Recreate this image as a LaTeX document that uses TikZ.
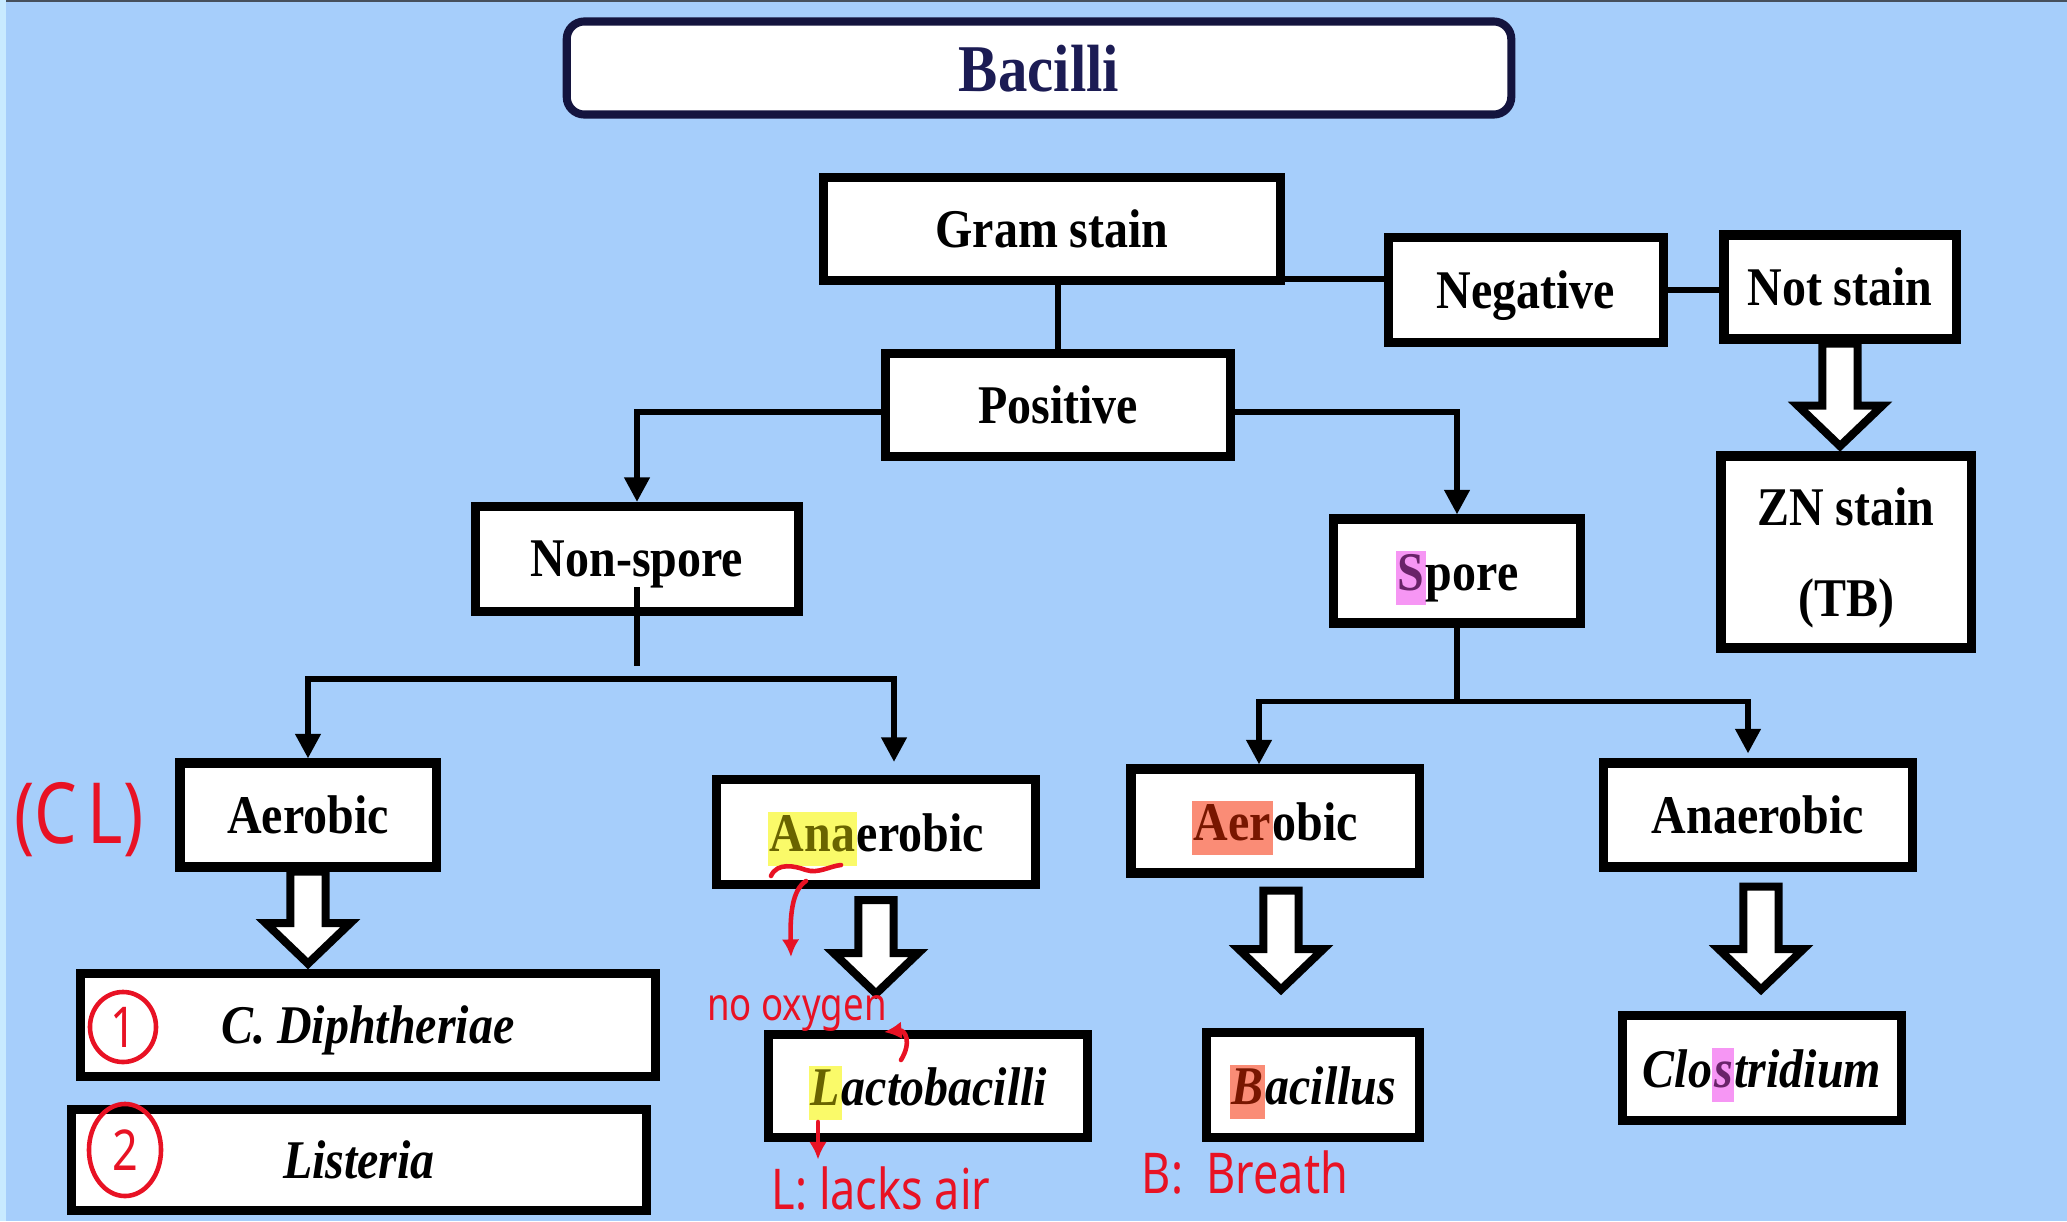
\documentclass[tikz,border=0pt]{standalone}
\usepackage{fontspec}
\setmainfont{Liberation Serif}[FakeStretch=0.88]
\newfontfamily\handfont{Noto Sans}[FakeStretch=0.8]
\usetikzlibrary{arrows.meta,calc,shapes.geometric}

\definecolor{bgblue}{RGB}{166,206,251}
\definecolor{stripblue}{RGB}{200,234,255}
\definecolor{topline}{RGB}{70,80,92}
\definecolor{navy}{RGB}{20,20,62}
\definecolor{titleink}{RGB}{28,28,84}
\definecolor{inkred}{RGB}{232,18,36}
\definecolor{hlyellow}{RGB}{250,250,105}
\definecolor{hlyink}{RGB}{105,100,0}
\definecolor{hlsalmon}{RGB}{250,140,118}
\definecolor{hlsink}{RGB}{120,22,0}
\definecolor{hlpink}{RGB}{246,150,244}
\definecolor{hlpink2}{RGB}{105,35,105}

% highlighter pen over a few letters
\newcommand{\marker}[3]{{\fboxsep=0.5pt\colorbox{#1}{\rule[-0.22em]{0pt}{0.92em}\textcolor{#2}{#3}}}}

% white block arrow going down from #1 to the height of #2
\newcommand{\hollowarrow}[2]{
  \draw[hollow] let \p1=(#1), \p2=(#2) in
    (\x1-5pt,\y1) -- (\x1-5pt,\y2+13pt) -- (\x1-12pt,\y2+13pt) -- (\x1,\y2+1.5pt)
    -- (\x1+12pt,\y2+13pt) -- (\x1+5pt,\y2+13pt) -- (\x1+5pt,\y1) -- cycle;
}

\tikzset{
  box/.style={draw, fill=white, line width=2.6pt, minimum height=1.04cm, inner sep=0pt,
    text depth=0pt, font=\fontsize{15.5pt}{19pt}\selectfont\bfseries},
  species/.style={box, font=\fontsize{15.5pt}{19pt}\selectfont\bfseries\itshape},
  titlebox/.style={draw=navy, fill=white, line width=2.3pt, rounded corners=5pt, text=titleink,
    text depth=0pt, font=\fontsize{19pt}{23pt}\selectfont\bfseries},
  conn/.style={line width=1.6pt},
  arr/.style={conn, -{Triangle[length=7pt,width=7pt]}},
  twoarr/.style={conn, {Triangle[length=7pt,width=7pt]}-{Triangle[length=7pt,width=7pt]}},
  hollow/.style={draw, fill=white, line width=2.3pt, line join=miter},
  ink/.style={inkred, line width=1.3pt, line cap=round},
  inkarr/.style={ink, -{Latex[length=5pt,width=5pt]}},
  hand/.style={text=inkred, inner sep=0pt, font=\handfont\fontsize{13pt}{15pt}\selectfont},
  bighand/.style={hand, font=\handfont\fontsize{16pt}{18pt}\selectfont},
  ring/.style={hand, ellipse, draw=inkred, line width=1.3pt, font=\handfont\fontsize{16pt}{18pt}\selectfont}
}

\begin{document}
\begin{tikzpicture}[x=0.01cm, y=-0.01cm]
  \useasboundingbox (0,0) rectangle (2067,1221);
  \fill[bgblue] (0,0) rectangle (2067,1221);
  \fill[stripblue] (0,0) rectangle (6,1221);
  \fill[topline] (6,0) rectangle (2067,2);

  \node[titlebox, minimum width=9.44cm, minimum height=0.93cm] (title) at (1039,68) {Bacilli};

  % first row
  \node[box, minimum width=4.57cm, minimum height=1.03cm] (gram) at (1052,229) {Gram stain};
  \node[box, minimum width=2.75cm, minimum height=1.05cm] (neg) at (1526,290) {Negative};
  \node[box, minimum width=2.32cm] (notst) at (1840,287) {Not stain};
  \node[box, minimum width=3.44cm, minimum height=1.03cm] (pos) at (1058,405) {Positive};
  \node[box, minimum width=2.50cm, minimum height=1.92cm, align=center] (zn) at (1846,552) {ZN stain\\[7pt](TB)};

  % spores
  \node[box, minimum width=3.23cm, minimum height=1.05cm] (nonsp) at (637,559) {Non-spore};
  \node[box, minimum width=2.47cm] (spore) at (1457,571) {\marker{hlpink}{hlpink2}{S}pore};

  % oxygen
  \node[box, minimum width=2.56cm] (aerL) at (308,815) {Aerobic};
  \node[box, minimum width=3.19cm, minimum height=1.05cm] (anaL) at (876,832) {\marker{hlyellow}{hlyink}{Ana}erobic};
  \node[box, minimum width=2.88cm] (aerR) at (1275,821) {\marker{hlsalmon}{hlsink}{Aer}obic};
  \node[box, minimum width=3.09cm] (anaR) at (1758,815) {Anaerobic};

  % species
  \node[species, minimum width=5.75cm, minimum height=1.03cm] (cdiph) at (368,1025) {C. Diphtheriae};
  \node[species, minimum width=5.75cm, minimum height=1.01cm] (list) at (359,1160) {Listeria};
  \node[species, minimum width=3.18cm, minimum height=1.03cm] (lacto) at (928,1086) {\marker{hlyellow}{hlyink}{L}actobacilli};
  \node[species, minimum width=2.13cm, minimum height=1.05cm] (bacil) at (1313,1085) {\marker{hlsalmon}{hlsink}{B}acillus};
  \node[species, minimum width=2.79cm, minimum height=1.05cm] (clost) at (1762,1068) {Clo\marker{hlpink}{hlpink2}{s}tridium};

  \coordinate (gj) at ($(pos.north |- gram.south)+(0,-6)$);
  \draw[conn] (neg.west |- gj) -- (gj) -- (pos.north);
  \draw[conn] (neg.east) -- (notst.west |- neg.east);
  \draw[arr] ([yshift=-2pt]pos.west) -| (nonsp.north);
  \draw[arr] ([yshift=-2pt]pos.east) -| (spore.north);

  \coordinate (nsbar) at ($(nonsp.center)+(0,120)$);
  \coordinate (nsL) at (nsbar -| aerL.north);
  \coordinate (nsR) at ($(nsbar -| anaL.north)+(18,0)$);
  \draw[conn] ($(nonsp.center)+(0,28)$) -- ($(nsbar)+(0,-13)$);
  \draw[twoarr] (aerL.north) -- (nsL) -- (nsR) -- ($(nsR |- anaL.north)+(0,-13)$);

  \coordinate (spbar) at ($(spore.south)+(0,74)$);
  \coordinate (spL) at ($(spbar -| aerR.north)+(-16,0)$);
  \coordinate (spR) at ($(spbar -| anaR.north)+(-10,0)$);
  \draw[conn] (spore.south) -- (spbar);
  \draw[twoarr] (spL |- aerR.north) -- (spL) -- (spR) -- ($(spR |- anaR.north)+(0,-5)$);

  \hollowarrow{notst.south}{zn.north}
  \hollowarrow{aerL.south}{cdiph.north}
  \hollowarrow{$(anaL.south)+(0,11)$}{$(lacto.north)+(0,-31)$}
  \hollowarrow{$(aerR.south)+(6,13)$}{$(bacil.north)+(0,-33)$}
  \hollowarrow{$(anaR.south)+(3,15)$}{$(clost.north)+(0,-16)$}

  % pen notes
  \node[hand, font=\handfont\fontsize{24pt}{26pt}\selectfont] (cl) at (79,820) {(C\kern3pt L)};
  \node[ring, minimum width=0.66cm, minimum height=0.70cm] (one) at (123,1027) {1};
  \node[ring, minimum width=0.72cm, minimum height=0.92cm] (two) at (125,1150) {2};

  \draw[ink] (771,876) .. controls (777,862) and (795,866) .. (806,870) .. controls (818,874) and (830,866) .. (841,865);
  \coordinate (tilde) at (806,881);
  \node[hand] (nooxy) at (797,1013) {no oxygen};
  \draw[inkarr] (tilde) .. controls (792,890) and (790,915) .. (791,957);
  \coordinate (lactonote) at (901,1060);
  \draw[inkarr] (lactonote) .. controls (912,1042) and (905,1030) .. (884,1032);
  \coordinate (lnote) at (818,1122);
  \node[bighand] (lacks) at (881,1188) {L: lacks air};
  \draw[inkarr] (lnote) -- ($(lacks.north -| lnote)+(0,-6)$);
  \node[bighand] (breath) at (1245,1172) {B:\ \ Breath};
\end{tikzpicture}
\end{document}
